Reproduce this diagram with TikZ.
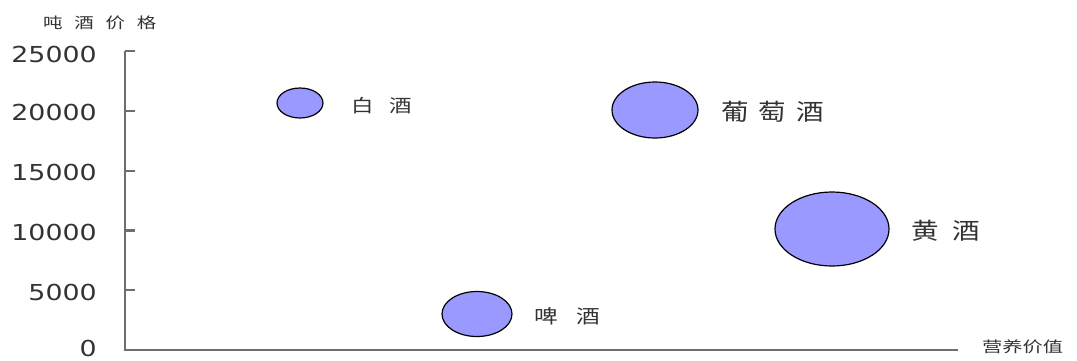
\documentclass[tikz,border=0pt]{standalone}
\usepackage{fontspec}
\setmainfont{DejaVu Sans}
\newfontfamily\cjk{Noto Sans CJK SC}
\usetikzlibrary{shapes.geometric}
\definecolor{axisgray}{HTML}{6E6E6E}
\definecolor{txtgray}{HTML}{333333}
\definecolor{bubblefill}{HTML}{9999FF}
\newcommand{\wide}[2]{\scalebox{#1}[1]{#2}}
\begin{document}
\begin{tikzpicture}[x=1pt,y=-1pt,
  axisline/.style={draw=axisgray, line width=2.4pt},
  tickmark/.style={draw=axisgray, line width=2.2pt},
  ticklbl/.style={anchor=east, inner sep=0pt, text=txtgray, font=\fontsize{22}{22}\selectfont},
  bubble/.style={ellipse, draw=black, line width=1.2pt, fill=bubblefill, inner sep=0pt},
  wine/.style={anchor=west, inner sep=0pt, text=txtgray},
  axistitle/.style={inner sep=0pt, text=txtgray, font=\cjk\fontsize{15}{15}\selectfont}
]
\useasboundingbox (0,0) rectangle (1077,360);
% axes
\coordinate (o) at (125,350);
\coordinate (ytop) at (125,51);
\coordinate (xend) at (958,350);
\draw[axisline] (ytop) -- (o) -- (xend);
% ticks
\foreach \v/\yy in {5000/290.2,10000/230.4,15000/170.6,20000/110.8,25000/51}{
  \coordinate (t\v) at (125,\yy);
  \draw[tickmark] (t\v) -- ++(10,0);
}
\foreach \v/\yy in {0/348.5,5000/292,10000/232,15000/172,20000/112,25000/54}{
  \node[ticklbl] (l\v) at (97,\yy) {\wide{1.22}{\v}};
}
% axis titles
\node[axistitle, anchor=west] (ytitle) at (43,23) {\wide{1.3}{吨\hspace{9pt}酒\hspace{9pt}价\hspace{9pt}格}};
\node[axistitle, anchor=west] (xtitle) at (982,347) {\wide{1.35}{营养价值}};
% bubbles
\node[bubble, minimum width=46pt, minimum height=30pt] (baijiu) at (300,103) {};
\node[bubble, minimum width=86pt, minimum height=56pt] (putao) at (655,110) {};
\node[bubble, minimum width=114pt, minimum height=74pt] (huang) at (832,229) {};
\node[bubble, minimum width=70pt, minimum height=45pt] (pijiu) at (477,314) {};
% labels
\node[wine, font=\cjk\fontsize{18}{18}\selectfont] (lbai) at (351,106) {\wide{1.25}{白\hspace{13pt}酒}};
\node[wine, font=\cjk\fontsize{23}{23}\selectfont] (lputao) at (721,112) {\wide{1.2}{葡\hspace{8.5pt}萄\hspace{8.5pt}酒}};
\node[wine, font=\cjk\fontsize{23}{23}\selectfont] (lhuang) at (911,231) {\wide{1.2}{黄\hspace{11pt}酒}};
\node[wine, font=\cjk\fontsize{19}{19}\selectfont] (lpi) at (534,316) {\wide{1.25}{啤\hspace{15pt}酒}};
\end{tikzpicture}
\end{document}
